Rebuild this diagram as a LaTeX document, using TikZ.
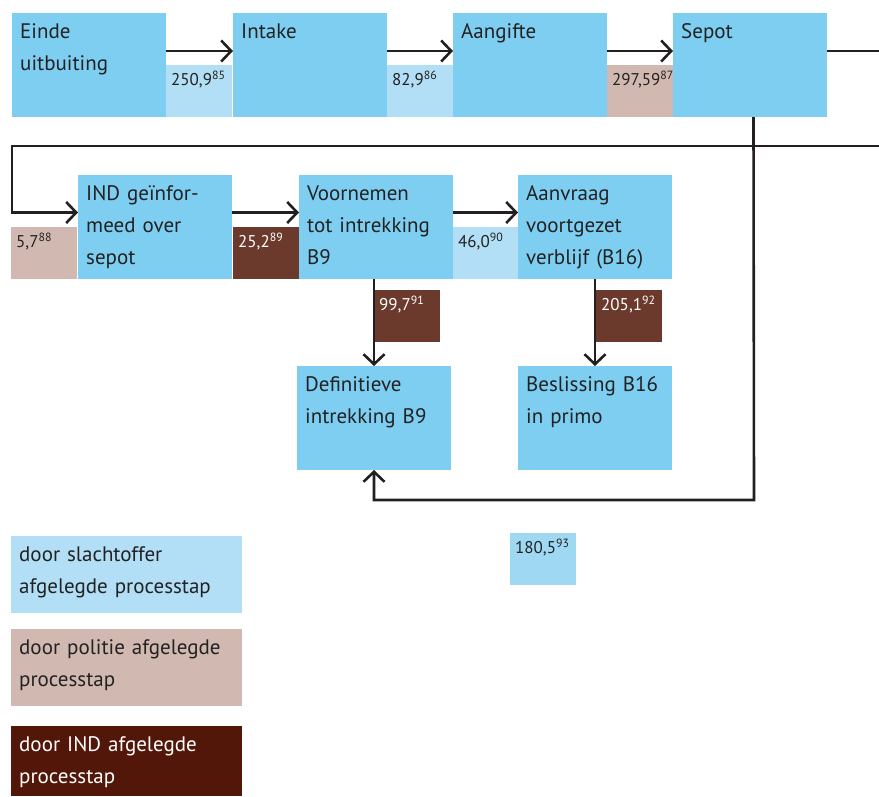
\documentclass[tikz,border=0pt]{standalone}
\usepackage{fontspec}
\setmainfont{PT Sans}
\usetikzlibrary{arrows.meta,calc}
\definecolor{stapblauw}{HTML}{7ECEF2}
\definecolor{lichtblauw}{HTML}{B2DFF5}
\definecolor{helderblauw}{HTML}{9ED8F3}
\definecolor{politiebruin}{HTML}{D1B9B1}
\definecolor{indbruin}{HTML}{6B3A2C}
\definecolor{donkerbruin}{HTML}{521709}
\definecolor{lijnkleur}{HTML}{231F20}
\definecolor{tekstkleur}{HTML}{222222}
\tikzset{
	stap/.style={rectangle, fill=stapblauw, anchor=north west, inner sep=0, outer sep=0, minimum width=154, minimum height=104},
	getal/.style={rectangle, anchor=north west, inner sep=0, outer sep=0, minimum width=66, minimum height=52},
	legenda/.style={rectangle, anchor=north west, inner sep=0, outer sep=0, minimum width=231, minimum height=77},
	stapnaam/.style={anchor=north west, inner xsep=8pt, inner ysep=2.6pt, text width=215pt, align=left, text=tekstkleur, font=\fontsize{21}{32}\selectfont, execute at begin node=\strut},
	getaltekst/.style={anchor=north west, inner xsep=5pt, inner ysep=5.4pt, text=tekstkleur, font=\fontsize{17}{18}\selectfont, execute at begin node=\strut},
	lijn/.style={draw=lijnkleur, line width=2.6pt},
	pijl/.style={lijn, -{Straight Barb[length=10pt,width=21pt]}},
}
\begin{document}
\begin{tikzpicture}[x=1pt, y=-1pt]
			%%%%% START %%%%%
			\useasboundingbox (0,0) rectangle (879,796);
			
			% bovenste rij
			\node[stap, label={[stapnaam]north west:Einde\\uitbuiting}] (einde) at (12,13) {};
			\node[stap, label={[stapnaam]north west:Intake}] (intake) at (233,13) {};
			\node[stap, label={[stapnaam]north west:Aangifte}] (aangifte) at (453,13) {};
			\node[stap, label={[stapnaam]north west:Sepot}] (sepot) at (673,13) {};
			
			\node[getal, fill=lichtblauw, label={[getaltekst]north west:250,9\textsuperscript{85}}] (n85) at (166,65) {};
			\node[getal, fill=lichtblauw, label={[getaltekst]north west:82,9\textsuperscript{86}}] (n86) at (387,65) {};
			\node[getal, fill=politiebruin, label={[getaltekst]north west:297,59\textsuperscript{87}}] (n87) at (607,65) {};
			
			% tweede rij
			\node[stap, label={[stapnaam]north west:IND geïnfor-\\meed over\\sepot}] (ind) at (78,175) {};
			\node[stap, label={[stapnaam]north west:Voornemen\\tot intrekking\\B9}] (voornemen) at (299,175) {};
			\node[stap, label={[stapnaam]north west:Aanvraag\\voortgezet\\verblijf (B16)}] (aanvraag) at (518,175) {};
			
			\node[getal, fill=politiebruin, label={[getaltekst]north west:5,7\textsuperscript{88}}] (n88) at (11,227) {};
			\node[getal, fill=indbruin, label={[getaltekst, text=white]north west:25,2\textsuperscript{89}}] (n89) at (233,227) {};
			\node[getal, fill=lichtblauw, minimum width=65, label={[getaltekst]north west:46,0\textsuperscript{90}}] (n90) at (453,227) {};
			
			% derde rij
			\node[getal, fill=indbruin, label={[getaltekst, text=white]north west:99,7\textsuperscript{91}}] (n91) at (374,290) {};
			\node[getal, fill=indbruin, label={[getaltekst, text=white]north west:205,1\textsuperscript{92}}] (n92) at (596,290) {};
			
			\node[stap, label={[stapnaam]north west:Definitieve\\intrekking B9}] (definitieve) at (297,366) {};
			\node[stap, label={[stapnaam]north west:Beslissing B16\\in primo}] (beslissing) at (518,366) {};
			
			\node[getal, fill=helderblauw, label={[getaltekst]north west:180,5\textsuperscript{93}}] (n93) at (510,533) {};
			
			% legenda
			\node[legenda, fill=lichtblauw, label={[stapnaam]north west:door slachtoffer\\afgelegde processtap}] (legslachtoffer) at (11,536) {};
			\node[legenda, fill=politiebruin, label={[stapnaam]north west:door politie afgelegde\\processtap}] (legpolitie) at (11,629) {};
			\node[legenda, fill=donkerbruin, minimum height=70, label={[stapnaam, text=white]north west:door IND afgelegde\\processtap}] (legind) at (11,726) {};
			
			% verbindingen
			\coordinate (rechtsboven) at (879,51);
			\coordinate (rechtsmidden) at (879,146);
			\coordinate (linkshoek) at (12,146);
			\coordinate (onderhoek) at (754,500);
			
			\draw[pijl] ([yshift=14pt]einde.east) -- ([yshift=14pt]intake.west);
			\draw[pijl] ([yshift=14pt]intake.east) -- ([yshift=14pt]aangifte.west);
			\draw[pijl] ([yshift=14pt]aangifte.east) -- ([yshift=14pt]sepot.west);
			\draw[lijn] ([yshift=14pt]sepot.east) -- (rechtsboven);
			
			\draw[pijl] (rechtsmidden) -- (linkshoek) |- ([yshift=14.5pt]ind.west);
			\draw[pijl] ([yshift=14.5pt]ind.east) -- ([yshift=14.5pt]voornemen.west);
			\draw[pijl] ([yshift=14.5pt]voornemen.east) -- ([yshift=14.5pt]aanvraag.west);
			
			\draw[pijl] (voornemen.south -| definitieve.north) -- (definitieve.north);
			\draw[pijl] (aanvraag.south) -- (beslissing.north);
			
			\draw[pijl] ([xshift=3.5pt]sepot.south) -- (onderhoek) -| (definitieve.south);
			
			%%%%% END %%%%%
\end{tikzpicture}
\end{document}
